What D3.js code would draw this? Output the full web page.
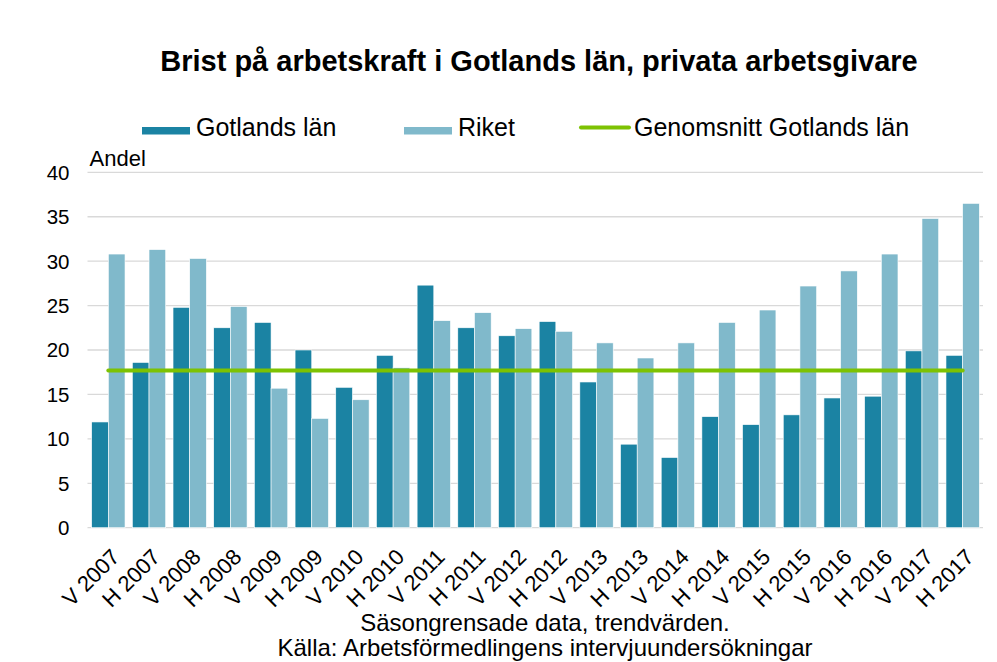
<!DOCTYPE html>
<meta charset="utf-8">
<style>
body { margin: 0; background: #fff; }
text { font-family: "Liberation Sans", Arial, sans-serif; fill: #000; }
</style>
<body>
<div id="chart"></div>
<script src="https://d3js.org/d3.v7.min.js"></script>
<script>

var categories = ["V 2007", "H 2007", "V 2008", "H 2008", "V 2009", "H 2009", "V 2010", "H 2010",
  "V 2011", "H 2011", "V 2012", "H 2012", "V 2013", "H 2013", "V 2014", "H 2014",
  "V 2015", "H 2015", "V 2016", "H 2016", "V 2017", "H 2017"];

var gotland = [11.9, 18.6, 24.8, 22.5, 23.1, 20.0, 15.8, 19.4, 27.3, 22.5, 21.6,
  23.2, 16.4, 9.4, 7.9, 12.5, 11.6, 12.7, 14.6, 14.8, 19.9, 19.4];

var riket = [30.8, 31.3, 30.3, 24.9, 15.7, 12.3, 14.4, 18.0, 23.3, 24.2, 22.4,
  22.1, 20.8, 19.1, 20.8, 23.1, 24.5, 27.2, 28.9, 30.8, 34.8, 36.5];

var genomsnitt = 17.7;

var yTicks = [0, 5, 10, 15, 20, 25, 30, 35, 40];

var seriesNames = ["Gotlands län", "Riket", "Genomsnitt Gotlands län"];

var width = 997,
    height = 662;

var darkColor = "#1b83a3",
    lightColor = "#80b9cb",
    greenColor = "#7dc202";

var svg = d3.select("#chart").append("svg")
    .attr("width", width)
    .attr("height", height);

var x = d3.scaleBand()
    .domain(categories)
    .range([88, 983])
    .paddingInner(0.18)
    .paddingOuter(0.09);

var x1 = d3.scaleBand()
    .domain(["gotland", "riket"])
    .range([0, x.bandwidth()]);

var y = d3.scaleLinear()
    .domain([0, 40])
    .range([527.7, 172.3]);

// gridlines
svg.append("g")
  .selectAll("line")
  .data(yTicks)
  .enter().append("line")
    .attr("x1", 87.5)
    .attr("x2", 983)
    .attr("y1", d => y(d))
    .attr("y2", d => y(d))
    .attr("stroke", "#d9d9d9")
    .attr("stroke-width", 1.3);

// y tick labels
svg.append("g")
  .selectAll("text")
  .data(yTicks)
  .enter().append("text")
    .attr("x", 69.5)
    .attr("y", d => y(d))
    .attr("dy", "0.36em")
    .attr("text-anchor", "end")
    .style("font-size", "20.5px")
    .text(d => d);

svg.append("text")
    .attr("x", 89.5)
    .attr("y", 166)
    .style("font-size", "22px")
    .text("Andel");

// bars
var groups = svg.append("g")
  .selectAll("g")
  .data(categories)
  .enter().append("g")
    .attr("transform", d => "translate(" + x(d) + ",0)");

groups.append("rect")
    .attr("x", x1("gotland"))
    .attr("y", (d, i) => y(gotland[i]))
    .attr("width", x1.bandwidth())
    .attr("height", (d, i) => y(0) - y(gotland[i]))
    .attr("fill", darkColor)
    .attr("stroke", "#fff")
    .attr("stroke-width", 0.6);

groups.append("rect")
    .attr("x", x1("riket"))
    .attr("y", (d, i) => y(riket[i]))
    .attr("width", x1.bandwidth())
    .attr("height", (d, i) => y(0) - y(riket[i]))
    .attr("fill", lightColor)
    .attr("stroke", "#fff")
    .attr("stroke-width", 0.6);

// average line
var line = d3.line()
    .x(d => x(d) + x.bandwidth() / 2)
    .y(() => y(genomsnitt));

svg.append("path")
    .datum(categories)
    .attr("d", line)
    .attr("fill", "none")
    .attr("stroke", greenColor)
    .attr("stroke-width", 4)
    .attr("stroke-linecap", "round");

// x labels, rotated
svg.append("g")
  .selectAll("text")
  .data(categories)
  .enter().append("text")
    .attr("transform", d => "translate(" + (x(d) + x.bandwidth() / 2 + 7) + ",553) rotate(-45)")
    .attr("text-anchor", "end")
    .attr("dy", "0.35em")
    .style("font-size", "22px")
    .text(d => d);

// title
svg.append("text")
    .attr("x", 539)
    .attr("y", 71)
    .attr("text-anchor", "middle")
    .style("font-size", "29px")
    .style("font-weight", "bold")
    .text("Brist på arbetskraft i Gotlands län, privata arbetsgivare");

// legend
var legend = svg.append("g");

legend.append("rect")
    .attr("x", 142).attr("y", 127)
    .attr("width", 48).attr("height", 7.5)
    .attr("fill", darkColor);
legend.append("text")
    .attr("x", 196).attr("y", 136)
    .style("font-size", "25px")
    .text(seriesNames[0]);

legend.append("rect")
    .attr("x", 404).attr("y", 127)
    .attr("width", 48).attr("height", 7.5)
    .attr("fill", lightColor);
legend.append("text")
    .attr("x", 458).attr("y", 136)
    .style("font-size", "25px")
    .text(seriesNames[1]);

legend.append("line")
    .attr("x1", 581).attr("x2", 629)
    .attr("y1", 127.5).attr("y2", 127.5)
    .attr("stroke", greenColor)
    .attr("stroke-width", 4)
    .attr("stroke-linecap", "round");
legend.append("text")
    .attr("x", 634).attr("y", 136)
    .style("font-size", "25px")
    .text(seriesNames[2]);

// source notes
svg.append("text")
    .attr("x", 545)
    .attr("y", 631)
    .attr("text-anchor", "middle")
    .style("font-size", "24px")
    .text("Säsongrensade data, trendvärden.");

svg.append("text")
    .attr("x", 545)
    .attr("y", 656)
    .attr("text-anchor", "middle")
    .style("font-size", "24px")
    .text("Källa: Arbetsförmedlingens intervjuundersökningar");

</script>
</body>
